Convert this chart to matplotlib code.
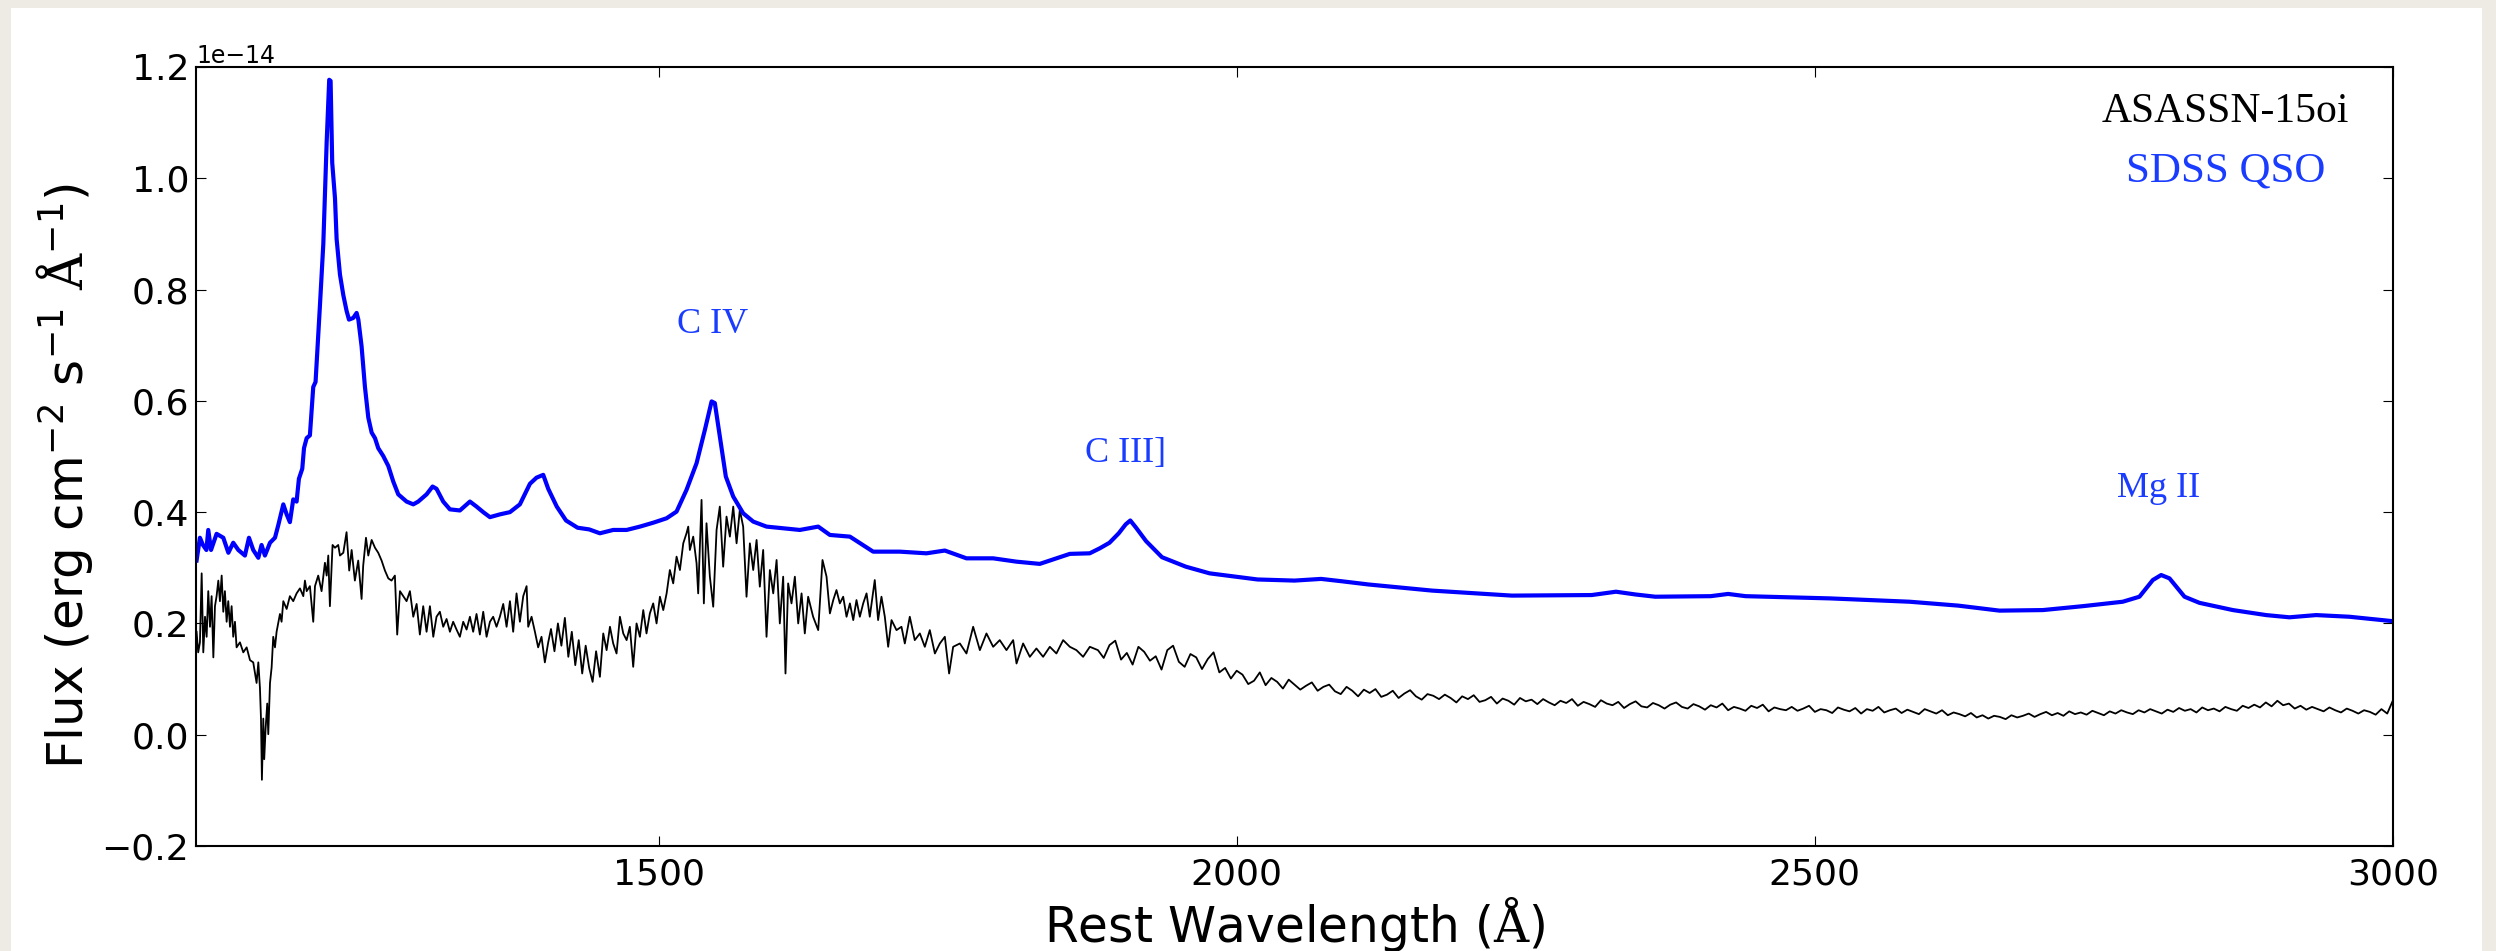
import matplotlib
matplotlib.use("Agg")
import matplotlib.pyplot as plt
from matplotlib.patches import Rectangle
from matplotlib.ticker import MultipleLocator

plt.rcParams["font.family"] = ["DejaVu Sans"]
plt.rcParams["mathtext.fontset"] = "custom"
plt.rcParams["mathtext.rm"] = "DejaVu Serif"
plt.rcParams["mathtext.it"] = "DejaVu Sans:italic"
plt.rcParams["mathtext.bf"] = "DejaVu Sans:bold"
plt.rcParams["mathtext.default"] = "regular"

SCALE = 1e-14

# === SDSS composite quasar (rest frame), flux in 1e-14 erg/cm2/s/A
qso_wave = [
    1100.5, 1103.4, 1106.0, 1109.0, 1110.6, 1113.0, 1117.8, 1123.6, 1128.0, 1132.2,
    1136.6, 1142.3, 1145.8, 1149.5, 1153.9, 1156.7, 1159.6, 1164.0, 1168.3, 1171.2,
    1175.5, 1178.4, 1181.2, 1184.1, 1187.0, 1189.0, 1191.9, 1193.4, 1195.7, 1198.5,
    1201.4, 1203.4, 1207.2, 1210.1, 1213.0, 1215.2, 1216.4, 1217.8, 1220.2, 1221.6,
    1224.5, 1227.4, 1230.2, 1232.3, 1236.0, 1238.9, 1240.4, 1243.2, 1246.1, 1249.0,
    1251.9, 1254.8, 1257.6, 1261.9, 1266.3, 1270.6, 1274.9, 1282.1, 1287.9, 1292.2,
    1299.4, 1304.6, 1308.0, 1313.8, 1319.6, 1328.2, 1336.9, 1342.6, 1348.4, 1354.2,
    1362.8, 1371.5, 1380.1, 1388.8, 1394.5, 1400.3, 1404.6, 1412.0, 1420.0, 1430.0,
    1440.0, 1449.3, 1460.8, 1472.4, 1483.9, 1495.4, 1507.0, 1515.6, 1524.2, 1532.9,
    1540.1, 1545.9, 1548.7, 1553.0, 1558.2, 1564.6, 1573.2, 1581.9, 1593.4, 1607.8,
    1622.2, 1638.1, 1648.2, 1665.5, 1685.6, 1708.7, 1731.7, 1747.6, 1766.3, 1789.4,
    1809.6, 1829.7, 1855.7, 1872.9, 1881.6, 1890.0, 1898.0, 1904.0, 1908.0, 1913.0,
    1921.6, 1935.4, 1956.0, 1976.6, 2018.0, 2050.0, 2073.0, 2090.0, 2114.0, 2169.0,
    2238.0, 2307.0, 2328.0, 2345.0, 2362.0, 2410.0, 2425.0, 2440.0, 2513.0, 2582.0,
    2624.0, 2659.7, 2697.2, 2731.7, 2766.3, 2780.7, 2792.3, 2799.5, 2806.7, 2819.7,
    2832.6, 2861.5, 2890.3, 2910.4, 2933.5, 2962.3, 2991.1, 3000.0,
]
qso_flux = [
    0.313, 0.354, 0.341, 0.332, 0.368, 0.332, 0.361, 0.354, 0.327, 0.345,
    0.332, 0.322, 0.354, 0.332, 0.318, 0.341, 0.322, 0.345, 0.354, 0.377,
    0.414, 0.396, 0.382, 0.423, 0.419, 0.460, 0.478, 0.515, 0.533, 0.538,
    0.625, 0.634, 0.772, 0.882, 1.065, 1.177, 1.175, 1.028, 0.964, 0.891,
    0.827, 0.790, 0.762, 0.746, 0.749, 0.758, 0.746, 0.698, 0.625, 0.570,
    0.543, 0.533, 0.515, 0.501, 0.483, 0.455, 0.432, 0.419, 0.414, 0.419,
    0.432, 0.446, 0.442, 0.419, 0.405, 0.403, 0.419, 0.410, 0.400, 0.391,
    0.396, 0.400, 0.414, 0.451, 0.462, 0.467, 0.442, 0.410, 0.385, 0.372,
    0.369, 0.362, 0.368, 0.368, 0.374, 0.381, 0.389, 0.401, 0.440, 0.488,
    0.548, 0.599, 0.596, 0.536, 0.464, 0.428, 0.398, 0.383, 0.374, 0.371,
    0.368, 0.374, 0.359, 0.356, 0.329, 0.329, 0.326, 0.331, 0.317, 0.317,
    0.311, 0.307, 0.325, 0.326, 0.335, 0.345, 0.362, 0.378, 0.385, 0.372,
    0.348, 0.319, 0.302, 0.290, 0.279, 0.277, 0.280, 0.276, 0.270, 0.259,
    0.250, 0.251, 0.257, 0.252, 0.248, 0.249, 0.253, 0.249, 0.245, 0.239,
    0.232, 0.223, 0.224, 0.231, 0.239, 0.248, 0.278, 0.287, 0.281, 0.248,
    0.237, 0.224, 0.215, 0.211, 0.215, 0.212, 0.206, 0.204,
]

# === ASASSN-15oi spectrum, blue half
sn_wave_blue = [
    1100.5, 1101.9, 1103.4, 1104.9, 1106.3, 1107.8, 1109.2, 1110.6, 1112.1, 1113.5,
    1115.0, 1116.4, 1117.8, 1119.3, 1120.7, 1122.2, 1123.6, 1125.0, 1126.5, 1127.9,
    1129.4, 1130.8, 1132.2, 1133.7, 1135.1, 1138.0, 1140.9, 1143.8, 1146.7, 1149.5,
    1152.4, 1153.9, 1155.3, 1156.2, 1157.0, 1158.2, 1159.0, 1160.2, 1161.6, 1162.5,
    1164.0, 1165.4, 1166.8, 1168.3, 1169.7, 1172.6, 1174.0, 1175.5, 1178.4, 1181.2,
    1184.1, 1187.0, 1189.9, 1192.8, 1194.2, 1195.7, 1198.5, 1201.4, 1202.9, 1205.7,
    1208.6, 1211.5, 1213.0, 1214.4, 1215.8, 1218.1, 1220.2, 1223.0, 1224.5, 1227.4,
    1230.2, 1232.5, 1234.6, 1237.4, 1240.3, 1243.2, 1244.6, 1247.0, 1249.0, 1251.9,
    1254.8, 1257.6, 1260.5, 1263.4, 1266.3, 1269.1, 1272.0, 1274.0, 1276.4, 1279.2,
    1282.1, 1285.0, 1287.9, 1290.8, 1293.6, 1296.5, 1299.4, 1302.3, 1305.2, 1308.0,
    1310.9, 1313.8, 1316.7, 1319.6, 1322.4, 1325.3, 1328.2, 1331.1, 1334.0, 1336.9,
    1339.7, 1342.6, 1345.5, 1348.4, 1351.3, 1354.2, 1357.0, 1359.9, 1362.8, 1365.7,
    1368.6, 1371.5, 1374.3, 1377.2, 1380.1, 1383.0, 1385.9, 1387.3, 1390.2, 1393.1,
    1395.9, 1398.8, 1401.7, 1404.6, 1407.0, 1410.0, 1413.0, 1416.0, 1419.0, 1422.0,
    1425.0, 1428.0, 1431.0, 1434.0, 1437.0, 1440.0, 1443.0, 1446.0, 1449.3, 1452.2,
    1455.1, 1458.0, 1460.8, 1463.7, 1466.6, 1469.5, 1472.4, 1475.2, 1478.1, 1481.0,
    1483.9, 1486.8, 1489.6, 1492.5, 1495.4, 1498.3, 1501.2, 1504.1, 1507.0, 1509.8,
    1512.7, 1515.6, 1518.5, 1521.4, 1524.2, 1525.7, 1527.1, 1530.0, 1532.9, 1534.3,
    1537.2, 1539.2, 1541.5, 1544.4, 1547.3, 1550.2, 1553.0, 1555.9, 1558.8, 1561.7,
    1564.6, 1567.5, 1570.3, 1573.2, 1576.1, 1579.0, 1581.9, 1584.8, 1587.6, 1590.5,
    1593.4, 1596.3, 1599.2, 1602.1, 1604.9, 1607.8, 1609.8, 1612.1, 1615.0, 1617.9,
    1620.8, 1623.7, 1626.5, 1629.4, 1633.7, 1638.1, 1641.8, 1645.3, 1648.2, 1651.1,
    1653.9, 1656.8, 1659.7, 1662.6, 1665.5, 1668.4, 1671.2, 1674.1, 1677.0, 1679.9,
    1682.7, 1687.0, 1689.9, 1692.8, 1695.7, 1698.6, 1701.5, 1705.8, 1710.1, 1713.0,
    1717.3, 1721.6, 1726.0, 1730.3, 1734.6, 1739.0, 1743.3, 1747.6, 1751.3, 1754.8,
    1760.6, 1766.3, 1772.1, 1777.9, 1783.6, 1789.4, 1795.1, 1800.9, 1806.7, 1809.6,
    1815.3, 1821.1, 1826.8, 1832.6, 1838.4, 1844.1, 1849.9, 1855.7, 1861.4, 1867.2,
    1873.0,
]
sn_flux_blue = [
    0.185, 0.148, 0.166, 0.290, 0.148, 0.212, 0.176, 0.258, 0.194, 0.249,
    0.139, 0.231, 0.249, 0.277, 0.240, 0.286, 0.221, 0.258, 0.203, 0.240,
    0.194, 0.231, 0.176, 0.203, 0.157, 0.166, 0.148, 0.157, 0.134, 0.130,
    0.093, 0.130, 0.084, 0.029, -0.081, 0.029, -0.044, 0.011, 0.056, 0.001,
    0.093, 0.121, 0.176, 0.157, 0.185, 0.217, 0.203, 0.240, 0.226, 0.249,
    0.240, 0.254, 0.263, 0.249, 0.277, 0.258, 0.267, 0.203, 0.267, 0.286,
    0.258, 0.309, 0.286, 0.322, 0.231, 0.341, 0.336, 0.341, 0.322, 0.327,
    0.364, 0.295, 0.332, 0.277, 0.313, 0.244, 0.304, 0.354, 0.322, 0.350,
    0.336, 0.327, 0.313, 0.295, 0.281, 0.277, 0.286, 0.180, 0.258, 0.249,
    0.240, 0.258, 0.212, 0.235, 0.180, 0.231, 0.185, 0.231, 0.176, 0.212,
    0.221, 0.194, 0.208, 0.185, 0.203, 0.189, 0.176, 0.203, 0.189, 0.212,
    0.185, 0.217, 0.180, 0.221, 0.176, 0.203, 0.212, 0.194, 0.212, 0.235,
    0.194, 0.240, 0.185, 0.254, 0.203, 0.249, 0.267, 0.194, 0.212, 0.185,
    0.157, 0.176, 0.130, 0.166, 0.190, 0.150, 0.200, 0.160, 0.210, 0.140,
    0.185, 0.125, 0.170, 0.110, 0.160, 0.120, 0.095, 0.150, 0.104, 0.182,
    0.152, 0.194, 0.164, 0.146, 0.212, 0.182, 0.170, 0.194, 0.122, 0.200,
    0.176, 0.224, 0.182, 0.218, 0.236, 0.200, 0.248, 0.224, 0.254, 0.296,
    0.272, 0.320, 0.296, 0.344, 0.362, 0.374, 0.332, 0.356, 0.308, 0.254,
    0.422, 0.236, 0.380, 0.284, 0.230, 0.368, 0.410, 0.302, 0.392, 0.356,
    0.410, 0.344, 0.404, 0.374, 0.248, 0.344, 0.296, 0.350, 0.266, 0.332,
    0.176, 0.296, 0.254, 0.314, 0.200, 0.284, 0.110, 0.272, 0.236, 0.284,
    0.200, 0.254, 0.182, 0.248, 0.212, 0.188, 0.314, 0.284, 0.218, 0.242,
    0.260, 0.236, 0.248, 0.212, 0.236, 0.206, 0.242, 0.212, 0.236, 0.254,
    0.212, 0.278, 0.206, 0.248, 0.212, 0.158, 0.206, 0.188, 0.194, 0.164,
    0.212, 0.170, 0.182, 0.158, 0.188, 0.146, 0.164, 0.176, 0.110, 0.158,
    0.164, 0.146, 0.194, 0.152, 0.182, 0.158, 0.170, 0.152, 0.170, 0.128,
    0.164, 0.140, 0.155, 0.140, 0.158, 0.146, 0.170, 0.158, 0.152, 0.140,
    0.158,
]

# === ASASSN-15oi spectrum, red half
sn_wave_red = [
    1880, 1885, 1890, 1895, 1900, 1905, 1910, 1915, 1920, 1925, 1930, 1935, 1940, 1945, 1950, 1955, 1960, 1965, 1970, 1975,
    1980, 1985, 1990, 1995, 2000, 2005, 2010, 2015, 2020, 2025, 2030, 2035, 2040, 2045, 2050, 2055, 2060, 2065, 2070, 2075,
    2080, 2085, 2090, 2095, 2100, 2105, 2110, 2115, 2120, 2125, 2130, 2135, 2140, 2145, 2150, 2155, 2160, 2165, 2170, 2175,
    2180, 2185, 2190, 2195, 2200, 2205, 2210, 2215, 2220, 2225, 2230, 2235, 2240, 2245, 2250, 2255, 2260, 2265, 2270, 2275,
    2280, 2285, 2290, 2295, 2300, 2305, 2310, 2315, 2320, 2325, 2330, 2335, 2340, 2345, 2350, 2355, 2360, 2365, 2370, 2375,
    2380, 2385, 2390, 2395, 2400, 2405, 2410, 2415, 2420, 2425, 2430, 2435, 2440, 2445, 2450, 2455, 2460, 2465, 2470, 2475,
    2480, 2485, 2490, 2495, 2500, 2505, 2510, 2515, 2520, 2525, 2530, 2535, 2540, 2545, 2550, 2555, 2560, 2565, 2570, 2575,
    2580, 2585, 2590, 2595, 2600, 2605, 2610, 2615, 2620, 2625, 2630, 2635, 2640, 2645, 2650, 2655, 2660, 2665, 2670, 2675,
    2680, 2685, 2690, 2695, 2700, 2705, 2710, 2715, 2720, 2725, 2730, 2735, 2740, 2745, 2750, 2755, 2760, 2765, 2770, 2775,
    2780, 2785, 2790, 2795, 2800, 2805, 2810, 2815, 2820, 2825, 2830, 2835, 2840, 2845, 2850, 2855, 2860, 2865, 2870, 2875,
    2880, 2885, 2890, 2895, 2900, 2905, 2910, 2915, 2920, 2925, 2930, 2935, 2940, 2945, 2950, 2955, 2960, 2965, 2970, 2975,
    2980, 2985, 2990, 2995, 3000,
]
sn_flux_red = [
    0.152, 0.138, 0.161, 0.169, 0.135, 0.147, 0.126, 0.158, 0.149, 0.133, 0.141, 0.117, 0.152, 0.160, 0.131, 0.122, 0.145, 0.139, 0.118, 0.136,
    0.148, 0.112, 0.120, 0.101, 0.115, 0.108, 0.091, 0.097, 0.112, 0.089, 0.102, 0.095, 0.083, 0.099, 0.090, 0.081, 0.088, 0.094, 0.079, 0.086,
    0.090, 0.078, 0.073, 0.086, 0.079, 0.069, 0.081, 0.075, 0.082, 0.068, 0.072, 0.079, 0.066, 0.074, 0.080, 0.069, 0.063, 0.073, 0.070, 0.064,
    0.072, 0.066, 0.058, 0.069, 0.064, 0.071, 0.059, 0.062, 0.068, 0.056, 0.065, 0.061, 0.054, 0.066, 0.060, 0.063, 0.055, 0.064, 0.058, 0.053,
    0.061, 0.057, 0.064, 0.052, 0.059, 0.055, 0.050, 0.062, 0.056, 0.053, 0.059, 0.048, 0.055, 0.060, 0.051, 0.049, 0.057, 0.053, 0.047, 0.054,
    0.058, 0.050, 0.047, 0.055, 0.051, 0.045, 0.053, 0.049, 0.056, 0.044, 0.050, 0.047, 0.043, 0.052, 0.048, 0.054, 0.042, 0.049, 0.046, 0.044,
    0.050, 0.043, 0.047, 0.052, 0.041, 0.046, 0.044, 0.039, 0.049, 0.045, 0.042, 0.048, 0.038, 0.046, 0.043, 0.050, 0.040, 0.044, 0.047, 0.039,
    0.045, 0.041, 0.037, 0.046, 0.042, 0.038, 0.044, 0.035, 0.040, 0.037, 0.033, 0.039, 0.031, 0.035, 0.029, 0.034, 0.032, 0.028, 0.035, 0.031,
    0.034, 0.038, 0.032, 0.037, 0.041, 0.035, 0.039, 0.034, 0.042, 0.037, 0.040, 0.036, 0.043, 0.039, 0.035, 0.042, 0.038, 0.044, 0.040, 0.037,
    0.044, 0.040, 0.046, 0.042, 0.038, 0.045, 0.041, 0.048, 0.043, 0.046, 0.040, 0.049, 0.044, 0.047, 0.042, 0.050, 0.046, 0.043, 0.052, 0.048,
    0.054, 0.049, 0.058, 0.051, 0.061, 0.053, 0.056, 0.047, 0.052, 0.045, 0.050, 0.046, 0.042, 0.049, 0.044, 0.040, 0.047, 0.043, 0.038, 0.044,
    0.041, 0.036, 0.046, 0.038, 0.062,
]

# line ids: label, wavelength, flux at label baseline
line_names = ["C IV", "C III]", "Mg II"]
line_wave = [1547, 1904, 2797]
line_flux = [0.722, 0.491, 0.427]

label_color = "#1a3cff"

fig = plt.figure(figsize=(24.96, 9.51), dpi=100, facecolor="#eeebe5")
fig.add_artist(Rectangle((11 / 2496, 0), 2471 / 2496, 1 - 8 / 951,
                         transform=fig.transFigure, facecolor="white",
                         edgecolor="none", zorder=-10))

ax = fig.add_axes([196 / 2496, 1 - 846 / 951, 2197 / 2496, 779 / 951])

ax.plot(sn_wave_blue + sn_wave_red,
        [f * SCALE for f in sn_flux_blue + sn_flux_red],
        color="black", lw=1.3)
ax.plot(qso_wave, [f * SCALE for f in qso_flux], color="blue", lw=3)

ax.text(2855, 1.102 * SCALE, "ASASSN-15oi", ha="center", va="baseline",
        fontsize=30, family="Liberation Serif", color="black")
ax.text(2855, 0.994 * SCALE, "SDSS QSO", ha="center", va="baseline",
        fontsize=31, family="Liberation Serif", color=label_color)
for name, w, f in zip(line_names, line_wave, line_flux):
    ax.text(w, f * SCALE, name, ha="center", va="baseline",
            fontsize=26, family="Liberation Serif", color=label_color)

ax.set_xlim(1100, 3000)
ax.set_ylim(-0.2 * SCALE, 1.2 * SCALE)
ax.xaxis.set_major_locator(MultipleLocator(500))
ax.yaxis.set_major_locator(MultipleLocator(0.2 * SCALE))

ax.tick_params(direction="in", top=True, right=True, length=7, width=0.8,
               labelsize=26, pad=8)
ax.tick_params(axis="y", pad=5)
ax.yaxis.get_offset_text().set_fontsize(17)
for sp in ax.spines.values():
    sp.set_linewidth(1.5)

ax.set_xlabel(r"Rest Wavelength ($\mathrm{\AA}$)", fontsize=35)
ax.xaxis.set_label_coords(0.5, (846 - 942) / 779)
ax.xaxis.label.set_va("baseline")

ax.set_ylabel(r"Flux (erg cm$^{-2}$ s$^{-1}$ $\mathrm{\AA}^{-1}$)", fontsize=36)
ax.yaxis.set_label_coords((95 - 196) / 2197, 0.475)

fig.savefig("out.png", dpi=100, facecolor=fig.get_facecolor())
